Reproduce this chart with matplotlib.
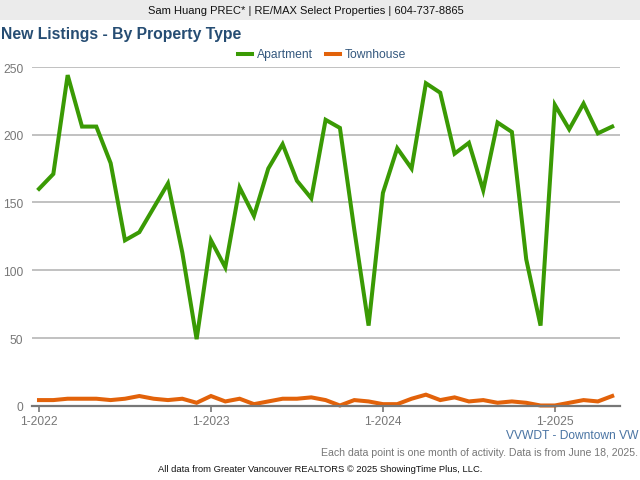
import matplotlib
matplotlib.use("Agg")
import matplotlib.pyplot as plt
from matplotlib.patches import Rectangle
from matplotlib.transforms import ScaledTranslation

plt.rcParams['font.family'] = ['Liberation Sans', 'DejaVu Sans']

apartment = [160, 171, 244, 206, 206, 179, 122, 128, 146, 164, 113, 49,
             122, 102, 161, 140, 175, 193, 166, 153, 211, 205, 130, 59,
             157, 190, 175, 238, 231, 186, 194, 159, 209, 202, 108, 59,
             222, 204, 223, 201, 206]
townhouse = [4, 4, 5, 5, 5, 4, 5, 7, 5, 4, 5, 2,
             7, 3, 5, 1, 3, 5, 5, 6, 4, 0, 4, 3,
             1, 1, 5, 8, 4, 6, 3, 4, 2, 3, 2, 0,
             0, 2, 4, 3, 7]
months = list(range(len(apartment)))
year_ticks = [0, 12, 24, 36]
year_labels = ['1-2022', '1-2023', '1-2024', '1-2025']
y_ticks = [0, 50, 100, 150, 200, 250]

W, H = 640, 480
fig = plt.figure(figsize=(6.4, 4.8), dpi=100)

# plot area, pixel positions
left, right, top, bottom = 32, 620, 67, 405.5
ax = fig.add_axes([left / W, 1 - bottom / H, (right - left) / W, (bottom - top) / H])
px_month = 14.33
ax.set_xlim((left - 39) / px_month, (right - 39) / px_month)
ax.set_ylim(0, 250)

ax.yaxis.grid(True, color='#b0b0b0', lw=1.1)
ax.set_axisbelow(True)
for s in ['top', 'right', 'left']:
    ax.spines[s].set_visible(False)
ax.spines['bottom'].set_color('#777777')
ax.spines['bottom'].set_linewidth(1.6)

ax.plot(months, apartment, color='#3a9a04', lw=2.9, label='Apartment', clip_on=False,
        solid_joinstyle='miter')
ax.plot(months, townhouse, color='#e2620a', lw=2.9, label='Townhouse', clip_on=False,
        solid_joinstyle='miter')

ax.set_xticks(year_ticks)
ax.set_xticklabels(year_labels)
ax.set_yticks(y_ticks)
ax.tick_params(axis='x', colors='#777777', labelsize=8.65, length=4, width=1.2, pad=3.5)
ax.tick_params(axis='y', colors='#777777', labelsize=8.65, length=0, pad=6.2)
# y labels sit a little under their grid lines
for lab in ax.get_yticklabels():
    lab.set_transform(lab.get_transform() + ScaledTranslation(0, -1.2 / 100, fig.dpi_scale_trans))

fig.legend(loc='center', bbox_to_anchor=(322 / W, 1 - 54.9 / H), ncol=2, frameon=False,
           fontsize=8.7, labelcolor='#35597f', handlelength=1.15, columnspacing=1.08,
           handletextpad=0.4, borderpad=0)

# header band and text
fig.add_artist(Rectangle((0, 1 - 20 / H), 1, 20 / H, transform=fig.transFigure,
                         color='#ebebeb', lw=0, zorder=-1))
fig.text(305.5 / W, 1 - 11 / H, 'Sam Huang PREC* | RE/MAX Select Properties | 604-737-8865',
         ha='center', va='center', fontsize=8.06, color='#111111')
fig.text(1 / W, 1 - 35 / H, 'New Listings - By Property Type', ha='left', va='center',
         fontsize=11.3, fontweight='bold', color='#264d73')
fig.text(639 / W, 1 - 436 / H, 'VVWDT - Downtown VW', ha='right', va='center',
         fontsize=8.65, color='#4a74a3')
fig.text(638 / W, 1 - 452.5 / H, 'Each data point is one month of activity. Data is from June 18, 2025.',
         ha='right', va='center', fontsize=7.6, color='#777777')
fig.text(158 / W, 1 - 470 / H, 'All data from Greater Vancouver REALTORS © 2025 ShowingTime Plus, LLC.',
         ha='left', va='center', fontsize=6.75, color='#111111')

fig.savefig('out.png', dpi=100)
